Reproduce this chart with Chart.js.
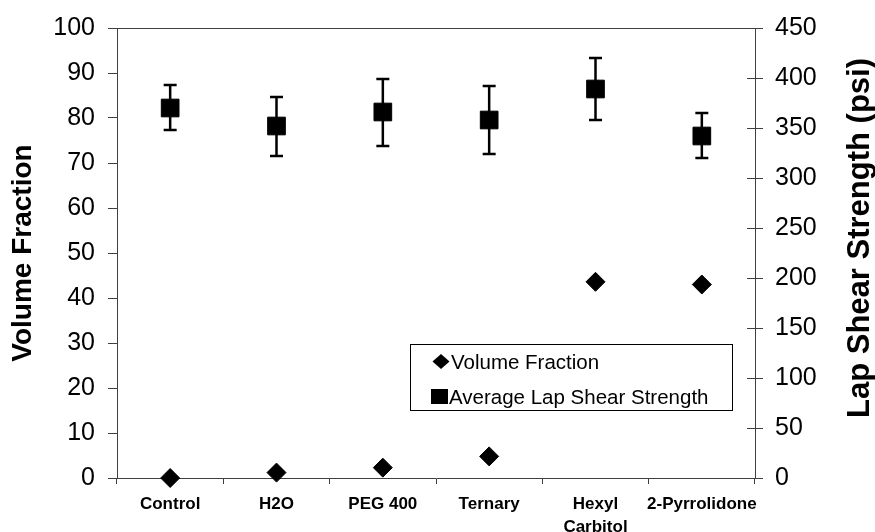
<!DOCTYPE html>
<html>
<head>
<meta charset="utf-8">
<script src="https://cdn.jsdelivr.net/npm/chart.js@4.4.1/dist/chart.umd.min.js"></script>
<style>
  html, body { margin: 0; padding: 0; background: #fff; }
  #wrap { position: relative; width: 875px; height: 532px; }
</style>
</head>
<body>
<div id="wrap"><canvas id="myChart"></canvas></div>
<script>
  // data
  var categories = ["Control", "H2O", "PEG 400", "Ternary", ["Hexyl", "Carbitol"], "2-Pyrrolidone"];
  var volumeFraction = [0, 1.2, 2.3, 4.8, 43.6, 43.0];
  var lapShear = [370, 352, 366, 358, 389, 342];
  var lapShearHigh = [393, 381, 399, 392, 420, 365];
  var lapShearLow = [348, 322, 332, 324, 358, 320];

  var FONT = "'Liberation Sans', Arial, sans-serif";
  var AXIS = "#404040";

  // error bars, top frame line, inner half of right ticks, right title, legend
  var extras = {
    id: 'extras',
    beforeDatasetsDraw: function(chart) {
      var ctx = chart.ctx;
      var x = chart.scales.x, yR = chart.scales.yR;
      ctx.save();
      ctx.strokeStyle = '#000';
      ctx.lineWidth = 2.5;
      for (var i = 0; i < lapShear.length; i++) {
        var px = x.getPixelForValue(i);
        var top = yR.getPixelForValue(lapShearHigh[i]);
        var bot = yR.getPixelForValue(lapShearLow[i]);
        ctx.beginPath();
        ctx.moveTo(px, top); ctx.lineTo(px, bot);
        ctx.moveTo(px - 6.5, top); ctx.lineTo(px + 6.5, top);
        ctx.moveTo(px - 6.5, bot); ctx.lineTo(px + 6.5, bot);
        ctx.stroke();
      }
      ctx.restore();
    },
    afterDraw: function(chart) {
      var ctx = chart.ctx;
      var area = chart.chartArea;
      var yR = chart.scales.yR;
      ctx.save();
      // top line of plot frame
      ctx.strokeStyle = AXIS;
      ctx.lineWidth = 1;
      ctx.beginPath();
      ctx.moveTo(area.left, area.top + 0.5);
      ctx.lineTo(area.right, area.top + 0.5);
      ctx.stroke();
      // right axis ticks cross the axis
      ctx.beginPath();
      yR.ticks.forEach(function(t) {
        var py = Math.round(yR.getPixelForValue(t.value)) + 0.5;
        ctx.moveTo(area.right - 8, py);
        ctx.lineTo(area.right, py);
      });
      ctx.stroke();

      // right axis title, reading upward
      ctx.fillStyle = '#000';
      ctx.font = 'bold 31px ' + FONT;
      ctx.textAlign = 'center';
      ctx.textBaseline = 'alphabetic';
      ctx.translate(869, (area.top + area.bottom) / 2 - 15);
      ctx.rotate(-Math.PI / 2);
      ctx.fillText('Lap Shear Strength (psi)', 0, 0);
      ctx.restore();

      // legend box
      ctx.save();
      var lx = 410, ly = 344, lw = 322, lh = 66;
      ctx.fillStyle = '#fff';
      ctx.fillRect(lx, ly, lw, lh);
      ctx.strokeStyle = '#000';
      ctx.lineWidth = 1;
      ctx.strokeRect(lx + 0.5, ly + 0.5, lw, lh);
      ctx.fillStyle = '#000';
      ctx.beginPath();
      ctx.moveTo(441 - 8.5, 361.5);
      ctx.lineTo(441, 361.5 - 7.5);
      ctx.lineTo(441 + 8.5, 361.5);
      ctx.lineTo(441, 361.5 + 7.5);
      ctx.closePath();
      ctx.fill();
      ctx.fillRect(431, 389, 17, 15);
      ctx.font = '20.5px ' + FONT;
      ctx.textAlign = 'left';
      ctx.textBaseline = 'alphabetic';
      ctx.fillText('Volume Fraction', 451, 368.5);
      ctx.fillText('Average Lap Shear Strength', 449, 403.5);
      ctx.restore();
    }
  };

  new Chart("myChart", {
    type: "line",
    data: {
      labels: categories,
      datasets: [{
        label: "Volume Fraction",
        data: volumeFraction,
        yAxisID: "y",
        showLine: false,
        pointStyle: "rectRot",
        pointRadius: 9.5,
        pointHoverRadius: 9.5,
        backgroundColor: "#000",
        borderColor: "#000",
        borderWidth: 1,
        clip: false
      }, {
        label: "Average Lap Shear Strength",
        data: lapShear,
        yAxisID: "yR",
        showLine: false,
        pointStyle: "rect",
        pointRadius: 12.5,
        pointHoverRadius: 12.5,
        backgroundColor: "#000",
        borderColor: "#000",
        borderWidth: 1,
        clip: false
      }]
    },
    options: {
      responsive: true,
      maintainAspectRatio: false,
      animation: false,
      layout: { padding: { top: 22, left: 0, right: 0, bottom: 0 } },
      plugins: {
        legend: { display: false },
        tooltip: { enabled: false }
      },
      scales: {
        x: {
          type: "category",
          offset: true,
          grid: { offset: true, drawOnChartArea: false, tickLength: 6, color: AXIS },
          border: { color: AXIS, width: 1 },
          ticks: {
            color: "#000",
            font: { family: FONT, size: 17, weight: "bold", lineHeight: 1.4 },
            padding: 8,
            maxRotation: 0,
            autoSkip: false
          },
          afterFit: function(s) { s.height = 54; }
        },
        y: {
          position: "left",
          min: 0,
          max: 100,
          ticks: {
            stepSize: 10,
            color: "#000",
            font: { family: FONT, size: 25 },
            padding: 13
          },
          grid: { drawOnChartArea: false, tickLength: 9, color: AXIS },
          border: { color: AXIS, width: 1 },
          title: {
            display: true,
            text: "Volume Fraction",
            color: "#000",
            font: { family: FONT, size: 28, weight: "bold" },
            padding: { top: 6, bottom: 0 }
          },
          afterFit: function(s) { s.width = 117; }
        },
        yR: {
          position: "right",
          min: 0,
          max: 450,
          ticks: {
            stepSize: 50,
            color: "#000",
            font: { family: FONT, size: 25 },
            padding: 12
          },
          grid: { drawOnChartArea: false, tickLength: 8, color: AXIS },
          border: { color: AXIS, width: 1 },
          afterFit: function(s) { s.width = 120; }
        }
      }
    },
    plugins: [extras]
  });
</script>
</body>
</html>
